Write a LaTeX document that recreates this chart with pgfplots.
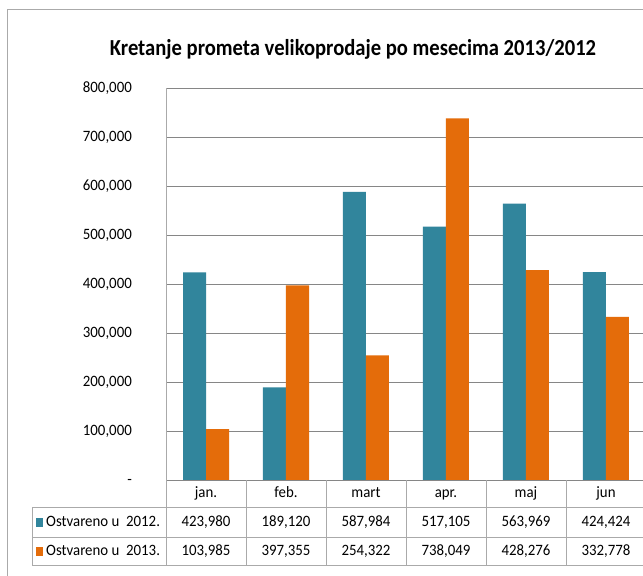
\documentclass[border=0pt]{standalone}
\usepackage{fontspec}
\setmainfont{Carlito}[FakeStretch=0.94]
\newfontfamily\titlefont{Carlito}[FakeStretch=0.9]
\usepackage{pgfplots}
\pgfplotsset{compat=1.18}
\definecolor{teal12}{RGB}{49,133,156}
\definecolor{orange13}{RGB}{228,108,10}
\definecolor{gridc}{RGB}{134,134,134}
\definecolor{linec}{RGB}{170,170,170}
\begin{document}
\begin{tikzpicture}
\useasboundingbox (0,0) rectangle (643pt,576pt);
\clip (0,0) rectangle (643pt,576pt);
\fill[white] (0,0) rectangle (643pt,576pt);
\draw[linec, line width=1pt] (7pt,-10pt) -- (7pt,566pt) -- (660pt,566pt);
\node[anchor=base, inner sep=0pt, font=\titlefont\bfseries\fontsize{22.9}{27}\selectfont] at (353pt,520pt) {Kretanje prometa velikoprodaje po mesecima 2013/2012};
\begin{axis}[
  at={(166pt,96pt)}, anchor=south west,
  scale only axis, width=480pt, height=392pt,
  xmin=-0.5, xmax=5.5, ymin=0, ymax=800000,
  ybar=0pt, bar width=23pt,
  axis x line*=bottom, axis y line*=left,
  x axis line style={gridc, line width=0.8pt, -},
  y axis line style={linec, line width=0.8pt, -},
  major tick length=0pt,
  xtick={0,1,2,3,4,5},
  xticklabels={jan.,feb.,mart,apr.,maj,jun},
  xticklabel style={anchor=base, inner sep=0pt, yshift=-18pt, font=\fontsize{15.8}{18}\selectfont},
  ytick={0,100000,200000,300000,400000,500000,600000,700000,800000},
  yticklabels={{-\hspace{9pt}},{100,000},{200,000},{300,000},{400,000},{500,000},{600,000},{700,000},{800,000}},
  yticklabel style={anchor=base east, inner sep=0pt, xshift=-34pt, yshift=-4.9pt, font=\fontsize{15.8}{18}\selectfont},
  /pgf/number format/assume math mode=true,
  scaled y ticks=false,
  ymajorgrids, major grid style={gridc, line width=0.8pt},
  clip=false,
]
\addplot[fill=teal12, draw=none] coordinates {(0,423980) (1,189120) (2,587984) (3,517105) (4,563969) (5,424424)};
\addplot[fill=orange13, draw=none] coordinates {(0,103985) (1,397355) (2,254322) (3,738049) (4,428276) (5,332778)};
\end{axis}
% data table grid
\draw[linec, line width=0.8pt] (32pt,69pt) -- (660pt,69pt);
\draw[linec, line width=0.8pt] (32pt,39pt) -- (660pt,39pt);
\draw[linec, line width=0.8pt] (32pt,11pt) -- (660pt,11pt);
\draw[linec, line width=0.8pt] (32pt,11pt) -- (32pt,69pt);
\foreach \x in {166,246,326,406,486,566} {\draw[linec, line width=0.8pt] (\x pt,11pt) -- (\x pt,96pt);}
\begin{scope}[every node/.style={anchor=base, inner sep=0pt, font=\fontsize{15.8}{18}\selectfont}]
\node at (206pt,49pt) {423,980};
\node at (286pt,49pt) {189,120};
\node at (366pt,49pt) {587,984};
\node at (446pt,49pt) {517,105};
\node at (526pt,49pt) {563,969};
\node at (606pt,49pt) {424,424};
\node at (206pt,20pt) {103,985};
\node at (286pt,20pt) {397,355};
\node at (366pt,20pt) {254,322};
\node at (446pt,20pt) {738,049};
\node at (526pt,20pt) {428,276};
\node at (606pt,20pt) {332,778};
\node[anchor=base west] at (36pt,49pt) {\textcolor{teal12}{\rule{7pt}{9pt}}\hspace{3pt}Ostvareno u\ \ 2012.};
\node[anchor=base west] at (36pt,20pt) {\textcolor{orange13}{\rule{7pt}{9pt}}\hspace{3pt}Ostvareno u\ \ 2013.};
\end{scope}
\end{tikzpicture}
\end{document}
